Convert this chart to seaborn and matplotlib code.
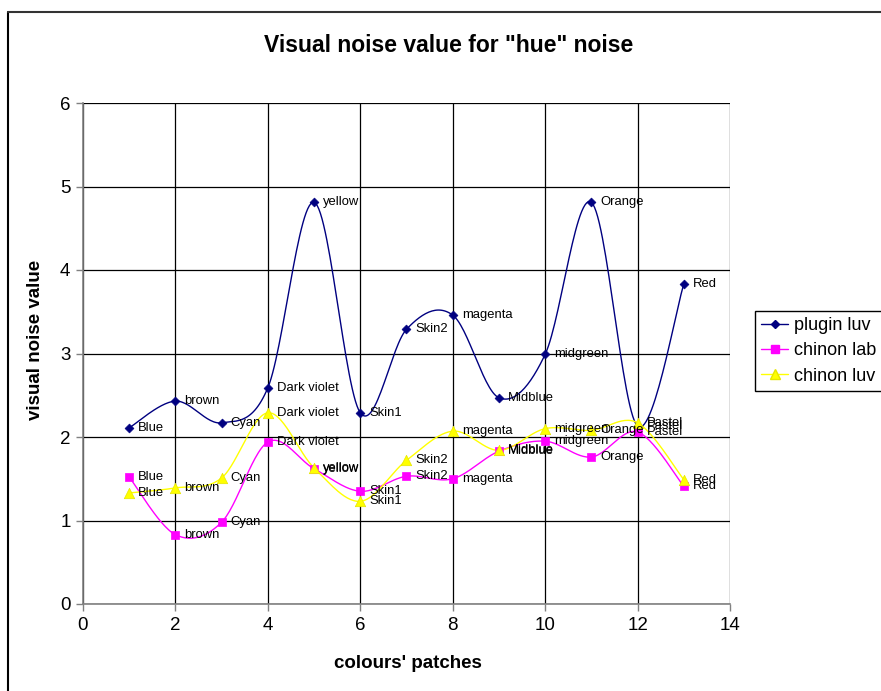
import numpy as np
import pandas as pd
import matplotlib
matplotlib.use("Agg")
import matplotlib.pyplot as plt
from matplotlib.lines import Line2D
import seaborn as sns

# --- data -------------------------------------------------------------------
patches = [1, 2, 3, 4, 5, 6, 7, 8, 9, 10, 11, 12, 13]
patch_names = ["Blue", "brown", "Cyan", "Dark violet", "yellow", "Skin1", "Skin2",
               "magenta", "Midblue", "midgreen", "Orange", "Pastel", "Red"]
plugin_luv = [2.11, 2.43, 2.17, 2.59, 4.81, 2.29, 3.29, 3.46, 2.47, 2.99, 4.81, 2.13, 3.83]
chinon_lab = [1.52, 0.83, 0.98, 1.94, 1.62, 1.35, 1.53, 1.50, 1.83, 1.95, 1.76, 2.06, 1.41]
chinon_luv = [1.33, 1.39, 1.51, 2.29, 1.63, 1.23, 1.72, 2.07, 1.84, 2.10, 2.08, 2.17, 1.49]

series_names = ["plugin luv", "chinon lab", "chinon luv"]
series_values = [plugin_luv, chinon_lab, chinon_luv]
series_colors = ["#000080", "#FF00FF", "#FFFF00"]
series_markers = ["D", "s", "^"]
series_msize = [4.5, 6, 7.5]
series_medge = ["#000080", "#FF00FF", "#E6E600"]


def smooth_curve(x, y, steps=30):
    """Bezier smoothing through every point (spreadsheet-style smoothed line)."""
    x = np.asarray(x, float)
    y = np.asarray(y, float)
    px = np.concatenate([[x[0]], x, [x[-1]]])
    py = np.concatenate([[y[0]], y, [y[-1]]])
    t = np.linspace(0, 1, steps)
    xs, ys = [], []
    for i in range(1, len(px) - 2):
        p0 = np.array([px[i], py[i]])
        p3 = np.array([px[i + 1], py[i + 1]])
        c1 = p0 + (np.array([px[i + 1], py[i + 1]]) - np.array([px[i - 1], py[i - 1]])) / 6
        c2 = p3 - (np.array([px[i + 2], py[i + 2]]) - np.array([px[i], py[i]])) / 6
        b = ((1 - t) ** 3)[:, None] * p0 + (3 * (1 - t) ** 2 * t)[:, None] * c1 \
            + (3 * (1 - t) * t ** 2)[:, None] * c2 + (t ** 3)[:, None] * p3
        xs.append(b[:, 0] if i == 1 else b[1:, 0])
        ys.append(b[:, 1] if i == 1 else b[1:, 1])
    return np.concatenate(xs), np.concatenate(ys)


points = pd.DataFrame({
    "patch": patches * 3,
    "value": plugin_luv + chinon_lab + chinon_luv,
    "series": sum([[n] * len(patches) for n in series_names], []),
})
curves = []
for name, vals in zip(series_names, series_values):
    cx, cy = smooth_curve(patches, vals)
    curves.append(pd.DataFrame({"patch": cx, "value": cy, "series": name}))
curves = pd.concat(curves, ignore_index=True)

# --- figure -----------------------------------------------------------------
sns.set_style("white")
plt.rcParams["font.family"] = ["Liberation Sans", "DejaVu Sans"]
plt.rcParams["text.color"] = "black"
plt.rcParams["axes.labelcolor"] = "black"
plt.rcParams["xtick.labelcolor"] = "black"
plt.rcParams["ytick.labelcolor"] = "black"

fig = plt.figure(figsize=(8.81, 6.91), dpi=100)
ax = fig.add_axes([83 / 881, 1 - 604 / 691, (730 - 83) / 881, (604 - 103) / 691])

palette = dict(zip(series_names, series_colors))
sns.lineplot(data=curves, x="patch", y="value", hue="series", palette=palette,
             sort=False, estimator=None, linewidth=1.0, legend=False, ax=ax, zorder=3)

for name, mk, ms, me in zip(series_names, series_markers, series_msize, series_medge):
    sub = points[points["series"] == name]
    sns.scatterplot(data=sub, x="patch", y="value", color=palette[name], marker=mk,
                    s=ms ** 2, edgecolor=me, linewidth=0.5, legend=False, ax=ax, zorder=4)

# point labels
for vals in series_values:
    for xv, yv, lab in zip(patches, vals, patch_names):
        ax.annotate(lab, (xv, yv), xytext=(6.5, 0), textcoords="offset points",
                    ha="left", va="center", fontsize=9.4, color="#000000", zorder=5,
                    annotation_clip=False)

ax.set_xlim(0, 14)
ax.set_ylim(0, 6)
ax.set_xticks(range(0, 15, 2))
ax.set_yticks(range(0, 7))
ax.grid(True, color="#000000", linewidth=0.9)
ax.set_axisbelow(True)
for side in ["top", "right"]:
    ax.spines[side].set_visible(False)
for side in ["left", "bottom"]:
    ax.spines[side].set_color("#808080")
    ax.spines[side].set_linewidth(1.2)
    ax.spines[side].set_zorder(2.5)
ax.tick_params(axis="both", direction="out", length=5, width=1, color="#808080",
               labelsize=13.5, labelcolor="black", pad=4, left=True, bottom=True)
ax.set_xlabel("")
ax.set_ylabel("")

fig.text(408 / 881, 1 - 663 / 691, "colours' patches", ha="center", va="center",
         fontsize=13.5, fontweight="bold", color="black")
fig.text(36 / 881, 1 - 340 / 691, "visual noise value", ha="center", va="center",
         rotation=90, fontsize=13.5, fontweight="bold", color="black")
fig.text(449 / 881, 1 - 45 / 691, 'Visual noise value for "hue" noise', ha="center",
         va="center", fontsize=16.5, fontweight="bold", color="black")

# legend
handles = [Line2D([0], [0], color=c, marker=m, markersize=ms * 0.9, markeredgecolor=me,
                  linewidth=1.0)
           for c, m, ms, me in zip(series_colors, series_markers, series_msize, series_medge)]
leg = fig.legend(handles, series_names, loc="upper left",
                 bbox_to_anchor=(755 / 881, 1 - 311 / 691), fontsize=13,
                 frameon=True, fancybox=False, edgecolor="#000000", framealpha=1,
                 handlelength=1.5, handletextpad=0.3, labelspacing=0.45,
                 borderpad=0.35, borderaxespad=0)
leg.get_frame().set_linewidth(1.0)
for t in leg.get_texts():
    t.set_color("black")

# chart border
fig.add_artist(Line2D([8 / 881, 8 / 881], [0, 1 - 12 / 691], color="#000000",
                      linewidth=1.5, transform=fig.transFigure))
fig.add_artist(Line2D([8 / 881, 1], [1 - 12 / 691, 1 - 12 / 691], color="#333333",
                      linewidth=1.5, transform=fig.transFigure))

fig.savefig("out.png", dpi=100)
